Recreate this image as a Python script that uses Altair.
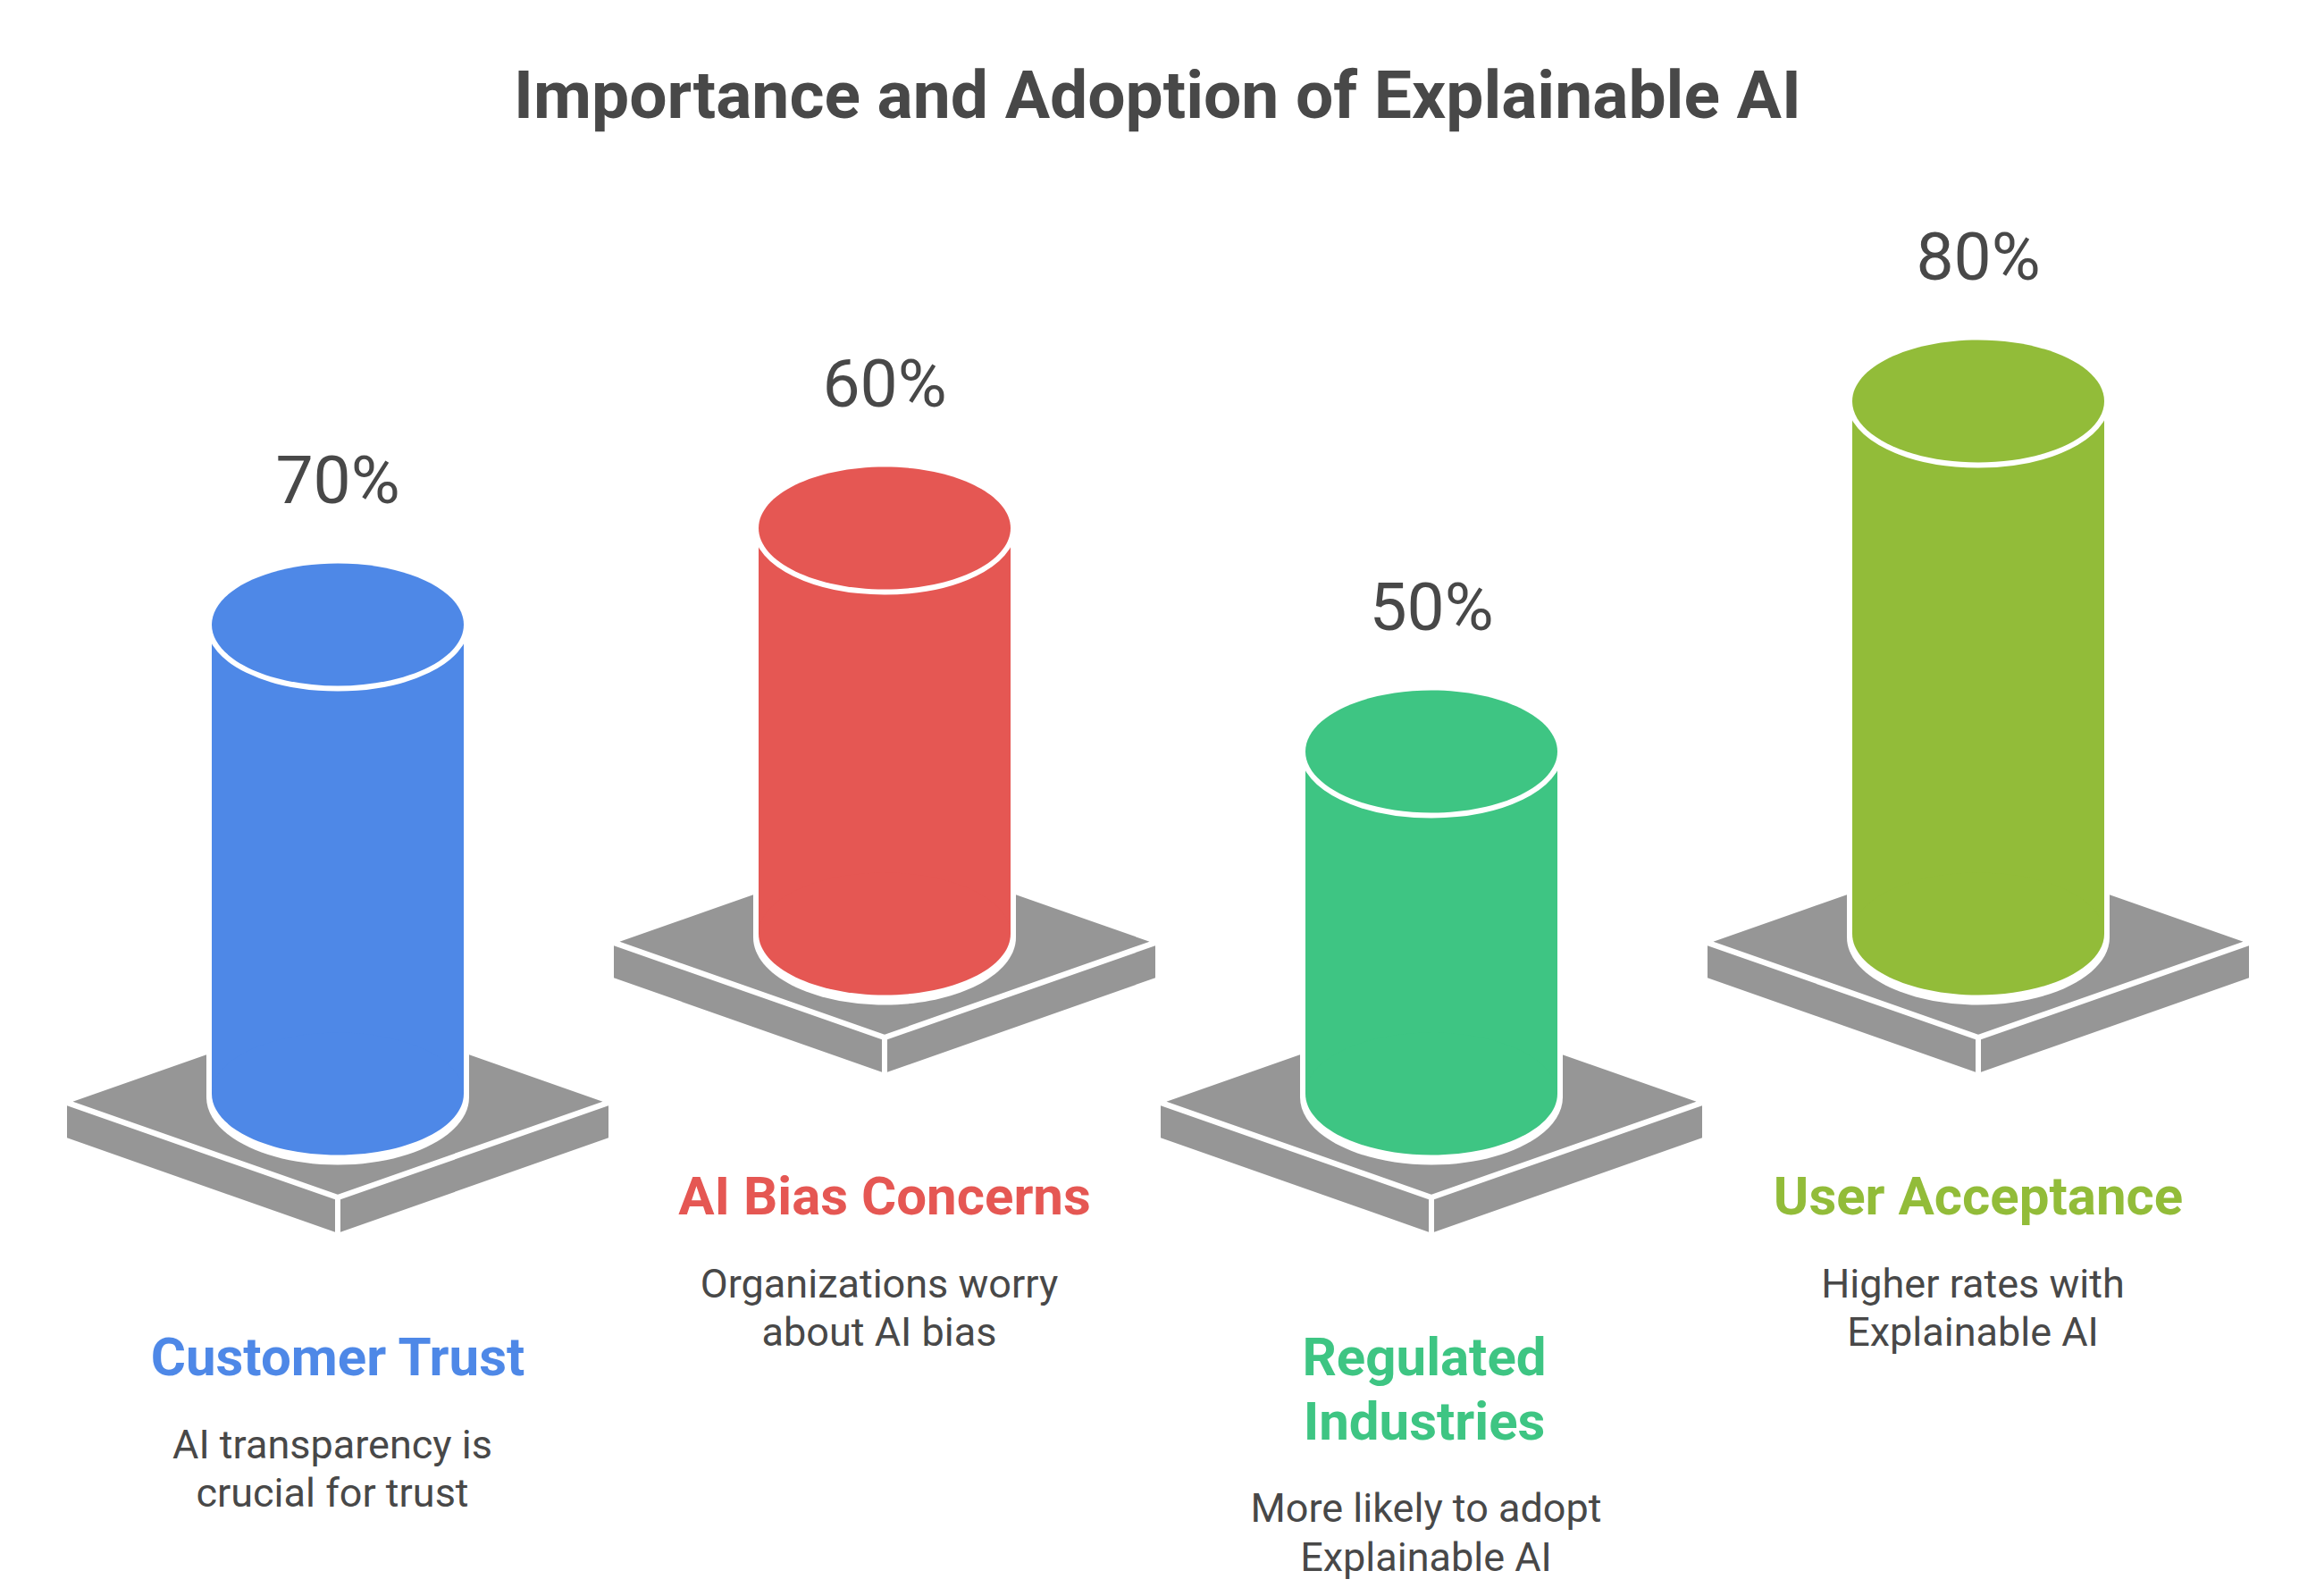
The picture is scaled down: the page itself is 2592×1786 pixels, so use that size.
import altair as alt
import pandas as pd

# ---- values ----
names = ["Customer Trust", "AI Bias Concerns", "Regulated Industries", "User Acceptance"]
name_lines = [["Customer Trust"], ["AI Bias Concerns"], ["Regulated", "Industries"], ["User Acceptance"]]
descriptions = [
    ["AI transparency is", "crucial for trust"],
    ["Organizations worry", "about AI bias"],
    ["More likely to adopt", "Explainable AI"],
    ["Higher rates with", "Explainable AI"],
]
percentages = [70, 60, 50, 80]
colors = ["#4e88e7", "#e55753", "#3ec583", "#92bc39"]
chart_title = "Importance and Adoption of Explainable AI"

# ---- layout ----
W, H = 2592, 1786
CENTER0, STEP = 378, 612
BASE_LOW, BASE_HIGH = 1224, 1045       # centre of the bottom ellipse, alternating
RX, RY = 141, 68.5
H0, H_PER_PCT = 28, 7.1                # cylinder height for a percentage
TEXT = "#484848"
GREY = "#969696"

rows = []
for i, (n, v) in enumerate(zip(names, percentages)):
    cx = CENTER0 + STEP * i
    base = BASE_LOW if i % 2 == 0 else BASE_HIGH
    top = base - H0 - H_PER_PCT * v
    rows.append(dict(name=n, pct=f"{v}%", cx=cx, base=base, top=top,
                     left=cx - RX, right=cx + RX, oleft=cx - RX - 6, oright=cx + RX + 6,
                     obase=base + 4, plinth=base + 8.7, label_y=top - 136))
df = pd.DataFrame(rows)

x_s = alt.Scale(domain=[8, W - 8], range=[0, W - 16], nice=False, zero=False)
y_s = alt.Scale(domain=[H - 8, 8], range=[H - 16, 0], nice=False, zero=False)
X = lambda f: alt.X(f, type="quantitative", scale=x_s, axis=None)
Y = lambda f: alt.Y(f, type="quantitative", scale=y_s, axis=None)
C = alt.Color("name:N", scale=alt.Scale(domain=names, range=colors), legend=None)

base = alt.Chart(df)
S = 300.0
def p(x, y):
    return f"{x/S:.4f},{y/S:.4f}"
plinth_path = (
    "M" + p(-296.5, 0) + "L" + p(0, -104) + "L" + p(296.5, 0) + "L" + p(0, 104) + "Z"
    "M" + p(-303, 4.6) + "L" + p(-3, 109.6) + "L" + p(-3, 146) + "L" + p(-303, 40.6) + "Z"
    "M" + p(303, 4.6) + "L" + p(3, 109.6) + "L" + p(3, 146) + "L" + p(303, 40.6) + "Z"
)
ratio = RY / RX
ellipse_path = f"M-1,0A1,{ratio:.4f},0,1,0,1,0A1,{ratio:.4f},0,1,0,-1,0Z"
outer_ratio = (RY + 7) / (RX + 6)
outer_path = f"M-1,0A1,{outer_ratio:.4f},0,1,0,1,0A1,{outer_ratio:.4f},0,1,0,-1,0Z"

plinths = base.mark_point(shape=plinth_path, size=(2 * S) ** 2, filled=True, opacity=1, fill=GREY, strokeWidth=0).encode(
    x=X("cx"), y=Y("plinth"))
halo_body = base.mark_rect(color="white").encode(x=X("oleft"), x2="oright:Q", y=Y("top"), y2="obase:Q")
halo_bottom = base.mark_point(shape=outer_path, size=(2 * (RX + 6)) ** 2, filled=True, opacity=1, fill="white", strokeWidth=0).encode(
    x=X("cx"), y=Y("obase"))
body = base.mark_rect().encode(x=X("left"), x2="right:Q", y=Y("top"), y2="base:Q", color=C)
bottom = base.mark_point(shape=ellipse_path, size=(2 * RX) ** 2, filled=True, opacity=1, strokeWidth=0).encode(
    x=X("cx"), y=Y("base"), color=C)
top_halo = base.mark_point(shape=ellipse_path, size=(2 * RX) ** 2, filled=True, opacity=1, fill="white", stroke="white", strokeWidth=12).encode(
    x=X("cx"), y=Y("top"))
top = base.mark_point(shape=ellipse_path, size=(2 * RX) ** 2, filled=True, opacity=1, strokeWidth=0).encode(
    x=X("cx"), y=Y("top"), color=C)
pct_text = base.mark_text(font="Roboto", fontSize=75, fontWeight=400, align="center", baseline="alphabetic", color=TEXT).encode(
    x=X("cx"), y=Y("label_y"), text="pct:N")

# text rows: one row per drawn line
name_rows, desc_rows = [], []
for i, n in enumerate(names):
    cx = CENTER0 + STEP * i
    y0 = 1539 if i % 2 == 0 else 1359
    dx = -8 if len(name_lines[i]) > 1 else 0
    for j, line in enumerate(name_lines[i]):
        name_rows.append(dict(name=n, line=line, cx=cx + dx, y=y0 + 71.5 * j))
    y1 = y0 + 92.7 + 71.5 * (len(name_lines[i]) - 1)
    for j, line in enumerate(descriptions[i]):
        desc_rows.append(dict(name=n, line=line, cx=cx - 6, y=y1 + 54.5 * j))

names_text = alt.Chart(pd.DataFrame(name_rows)).mark_text(
    font="Roboto", fontSize=60, fontWeight=700, align="center", baseline="alphabetic").encode(
    x=X("cx"), y=Y("y"), text="line:N", color=C)
desc_text = alt.Chart(pd.DataFrame(desc_rows)).mark_text(
    font="Roboto", fontSize=45, fontWeight=400, align="center", baseline="alphabetic", color=TEXT).encode(
    x=X("cx"), y=Y("y"), text="line:N")
title_text = alt.Chart(pd.DataFrame([dict(t=chart_title, cx=1295.5, y=132)])).mark_text(
    font="Roboto", fontSize=75, fontWeight=700, align="center", baseline="alphabetic", color=TEXT).encode(
    x=X("cx"), y=Y("y"), text="t:N")

chart = alt.layer(plinths, halo_body, halo_bottom, body, bottom, top_halo, top,
                  pct_text, names_text, desc_text, title_text).properties(
    width=W - 16, height=H - 16, padding=0, background="white"
).configure_view(stroke=None)

chart.save("out.html", embed_options={"renderer": "svg", "actions": False})
